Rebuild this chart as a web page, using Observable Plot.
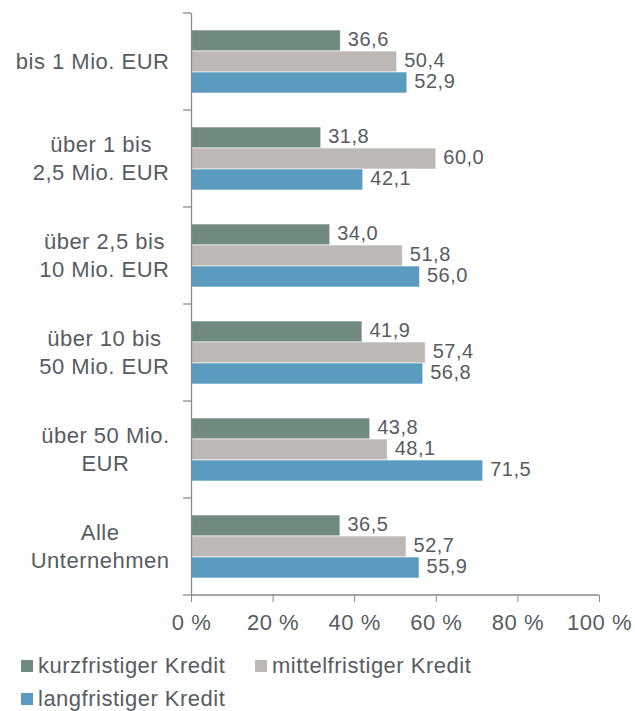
<!DOCTYPE html>
<html><head><meta charset="utf-8">
<script src="https://cdn.jsdelivr.net/npm/d3@7"></script>
<script src="https://cdn.jsdelivr.net/npm/@observablehq/plot@0.6"></script>
<style>
body{margin:0;background:#fff;font-family:"Liberation Sans",Arial,sans-serif;}
#chart svg{display:block;}
#legend{position:relative;width:635px;height:71px;color:#575c62;font-size:22px;letter-spacing:0.5px;}
.item{position:absolute;display:flex;align-items:center;height:33px;white-space:nowrap;}
.sw{display:inline-block;width:12px;height:12px;margin-right:5px;}
</style></head><body>
<div id="chart"></div>
<div id="legend"></div>
<script>
const categories = ["bis 1 Mio. EUR","über 1 bis 2,5 Mio. EUR","über 2,5 bis 10 Mio. EUR","über 10 bis 50 Mio. EUR","über 50 Mio. EUR","Alle Unternehmen"];
const categoryLines = [["bis 1 Mio. EUR"],["über 1 bis","2,5 Mio. EUR"],["über 2,5 bis","10 Mio. EUR"],["über 10 bis","50 Mio. EUR"],["über 50 Mio.","EUR"],["Alle","Unternehmen"]];
const series = ["kurzfristiger Kredit","mittelfristiger Kredit","langfristiger Kredit"];
const kurz = [36.6,31.8,34.0,41.9,43.8,36.5];
const mittel = [50.4,60.0,51.8,57.4,48.1,52.7];
const lang = [52.9,42.1,56.0,56.8,71.5,55.9];
const xTicks = [0,20,40,60,80,100];
const colors = ["#718a7e","#bdb8b4","#5b9bbf"];

const textColor = "#575c62";
const axisColor = "#8a8a8a";
const valuesBySeries = [kurz, mittel, lang];
const data = [];
categories.forEach((c, i) => series.forEach((s, j) => data.push({cat: c, series: s, value: valuesBySeries[j][i]})));
const fmt = v => v.toFixed(1).replace(".", ",");

// measure label widths for Excel-like block alignment
const cv = document.createElement("canvas").getContext("2d");
cv.font = "22px 'Liberation Sans'";
const ls = 0.5;
const lw = t => cv.measureText(t).width + ls * t.length;

const labelMarks = categories.map((c, i) => {
  const maxW = Math.max(...categoryLines[i].map(lw));
  return Plot.text([c], {
    fy: d => d, x: 0, text: () => categoryLines[i].join("\n"),
    textAnchor: "middle", lineAnchor: "middle", lineHeight: 1.28,
    dx: -(22 + maxW / 2), dy: -2, fontSize: 22, fill: textColor
  });
});

const chart = Plot.plot({
  width: 635, height: 640,
  marginTop: 12, marginBottom: 45, marginLeft: 191, marginRight: 36,
  style: {fontFamily: "'Liberation Sans', Arial, sans-serif", letterSpacing: "0.5px", background: "#fff"},
  fy: {domain: categories, padding: 0, axis: null},
  y: {domain: series, paddingInner: 0, paddingOuter: 0.756, axis: null},
  x: {domain: [0, 100], axis: null},
  color: {domain: series, range: colors},
  marks: [
    Plot.barX(data, {fy: "cat", y: "series", x: "value", fill: "series", stroke: "white", strokeOpacity: 0.6, strokeWidth: 1}),
    Plot.text(data, {fy: "cat", y: "series", x: "value", text: d => fmt(d.value), textAnchor: "start", dx: 7, dy: -1, fontSize: 20, fill: textColor}),
    Plot.ruleX([0], {stroke: axisColor, strokeWidth: 1.3}),
    Plot.axisX({ticks: xTicks, tickFormat: d => d + " %", tickSize: 7, tickPadding: 12, fontSize: 22, color: textColor, stroke: axisColor, facetAnchor: "bottom", anchor: "bottom", label: null}),
    ...labelMarks
  ]
});
document.getElementById("chart").appendChild(chart);

// axis domain line and category boundary ticks from the library's scales
const fy = chart.scale("fy"), x = chart.scale("x");
const svg = d3.select(chart);
const x0 = x.apply(0), x1 = x.apply(100);
const bounds = categories.map(c => fy.apply(c));
bounds.push(fy.apply(categories[categories.length - 1]) + fy.bandwidth);
const g = svg.append("g").attr("stroke", axisColor).attr("stroke-width", 1.3);
bounds.forEach(b => g.append("line").attr("x1", x0 - 8).attr("x2", x0).attr("y1", b).attr("y2", b));
const yb = bounds[bounds.length - 1];
g.append("line").attr("x1", x0).attr("x2", x1).attr("y1", yb).attr("y2", yb);

// legend
const legend = document.getElementById("legend");
const pos = [[21, 9], [255, 9], [21, 42]];
series.forEach((s, i) => {
  const it = document.createElement("div");
  it.className = "item";
  it.style.left = pos[i][0] + "px";
  it.style.top = pos[i][1] + "px";
  it.innerHTML = `<span class="sw" style="background:${colors[i]}"></span>${s}`;
  legend.appendChild(it);
});
</script>
</body></html>
